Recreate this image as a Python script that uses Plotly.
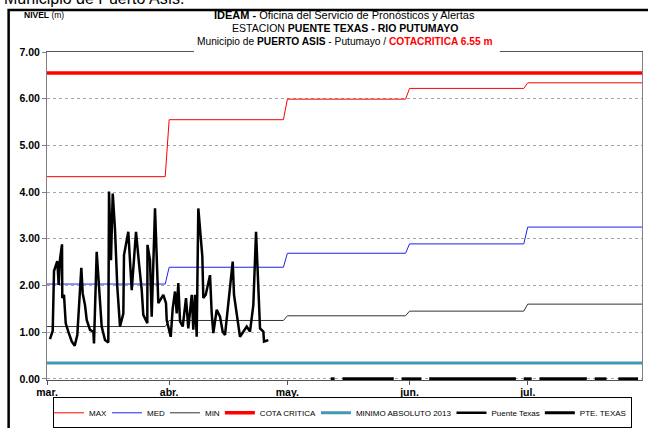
import pandas as pd
import plotly.graph_objects as go

# --- datos -------------------------------------------------------------
inicio = pd.Timestamp("2013-03-01")
fin = pd.Timestamp("2013-07-31")

meses = ["2013-03-01", "2013-04-01", "2013-05-01", "2013-06-01", "2013-07-01"]
etiquetas_mes = ["mar.", "abr.", "may.", "jun.", "jul."]

# niveles históricos mensuales (m)
nivel_max = [4.33, 5.55, 5.99, 6.22, 6.34]
nivel_med = [2.03, 2.39, 2.69, 2.89, 3.25]
nivel_min = [1.12, 1.25, 1.35, 1.45, 1.60]

cota_critica = 6.55
minimo_absoluto_2013 = 0.34

# lecturas de la estación Puente Texas (días desde el 1 de marzo, nivel en m)
dias_puente = [0.76, 1.45, 1.78, 2.61, 2.97, 3.30, 3.81, 3.88, 4.31, 4.75,
               5.41, 6.27, 7.03, 7.69, 8.71, 9.06, 9.64, 10.08, 10.91, 11.75,
               11.93, 12.61, 13.88, 14.72, 15.56, 15.74, 16.24, 16.68, 17.26, 17.84,
               18.53, 19.37, 19.54, 20.63, 21.50, 22.59, 23.35, 24.04, 24.44, 25.46,
               25.50, 26.14, 26.57, 27.41, 28.25, 29.52, 30.20, 30.38, 31.40, 31.90,
               32.49, 32.92, 33.32, 33.76, 34.44, 35.28, 35.86, 36.73, 37.13, 37.56,
               37.99, 38.40, 39.42, 39.67, 40.28, 41.37, 41.80, 42.21, 43.07, 43.91,
               44.59, 45.18, 47.13, 47.46, 48.98, 49.82, 50.69, 51.52, 52.36, 53.05,
               53.63, 54.06, 54.90, 55.08, 56.17]
nivel_puente = [0.85, 1.03, 2.31, 2.52, 2.01, 2.56, 2.88, 1.73, 1.80, 1.19,
                1.01, 0.80, 0.71, 0.94, 2.38, 1.83, 1.58, 1.26, 1.05, 1.01,
                0.76, 2.72, 1.12, 0.83, 0.78, 4.01, 2.54, 3.97, 3.19, 1.97,
                1.12, 1.40, 2.65, 3.15, 1.90, 3.15, 2.47, 1.90, 1.37, 1.19,
                2.87, 2.54, 1.33, 3.65, 1.62, 1.80, 1.62, 1.26, 0.90, 1.51,
                1.87, 1.40, 2.05, 1.23, 1.12, 1.73, 1.08, 1.80, 1.05, 1.80,
                0.90, 3.65, 2.62, 1.73, 1.80, 2.22, 1.40, 0.98, 1.48, 1.33,
                1.01, 0.94, 2.51, 1.80, 0.90, 1.01, 1.12, 1.01, 1.58, 3.15,
                1.83, 1.08, 1.01, 0.80, 0.83]

# serie diaria PTE. TEXAS desde el 12 de mayo (None = sin dato)
inicio_pte = "2013-05-12"
pte_texas = [0, 0, None,
             0, 0, 0, 0, 0, 0, 0, 0, 0, 0, 0, 0, 0, 0, None,
             0, 0, 0, 0, 0, 0, None,
             0, 0, 0, 0, 0, 0, 0, 0, 0, 0, 0, 0, 0, 0, 0, 0, 0, 0, 0, 0, 0, 0, 0, None,
             0, 0, 0, None,
             0, 0, 0, 0, 0, 0, 0, 0, 0, 0, 0, 0, 0, None,
             0, 0, 0, 0, None, None,
             0, 0, 0, 0, 0, 0]

# --- construcción ------------------------------------------------------
SANS = "Liberation Sans, Arial, sans-serif"

inicios_mes = pd.to_datetime(meses)


def escalones(valores):
    """Convierte valores mensuales en una línea escalonada día a día."""
    xs, ys = [], []
    for i, v in enumerate(valores):
        a = inicios_mes[i]
        b = inicios_mes[i + 1] - pd.Timedelta(days=1) if i + 1 < len(inicios_mes) else fin
        xs += [a, b]
        ys += [v, v]
    return xs, ys


fig = go.Figure()

for nombre, valores, color in [("MAX", nivel_max, "#FF0000"),
                               ("MED", nivel_med, "#1F1FF0"),
                               ("MIN", nivel_min, "#333333")]:
    xs, ys = escalones(valores)
    fig.add_trace(go.Scatter(x=xs, y=ys, mode="lines", name=nombre,
                             line=dict(color=color, width=1)))

fig.add_trace(go.Scatter(x=[inicio, fin], y=[cota_critica, cota_critica],
                         mode="lines", name="COTA CRITICA",
                         line=dict(color="#FF0000", width=3.5)))
fig.add_trace(go.Scatter(x=[inicio, fin], y=[minimo_absoluto_2013] * 2,
                         mode="lines", name="MINIMO ABSOLUTO 2013",
                         line=dict(color="#4298B5", width=3)))

x_puente = [inicio + pd.Timedelta(days=d) for d in dias_puente]
fig.add_trace(go.Scatter(x=x_puente, y=nivel_puente, mode="lines",
                         name="Puente Texas",
                         line=dict(color="black", width=2.5)))

x_pte = pd.date_range(inicio_pte, periods=len(pte_texas), freq="D")
fig.add_trace(go.Scatter(x=x_pte, y=pte_texas, mode="lines", name="PTE. TEXAS",
                         connectgaps=False,
                         line=dict(color="black", width=3)))

# --- ejes ---------------------------------------------------------------
fig.update_xaxes(
    type="date",
    range=["2013-03-01", "2013-07-30"],
    tickvals=meses, ticktext=etiquetas_mes,
    tickfont=dict(family=SANS, size=10.5, color="black", weight="bold"),
    ticks="outside", ticklen=4, tickcolor="#555555", ticklabelstandoff=-2,
    showline=True, linecolor="#555555", linewidth=1, mirror=True,
    showgrid=False, zeroline=False,
)
fig.update_yaxes(
    range=[-0.025, 7.0],
    tickvals=[0, 1, 2, 3, 4, 5, 6, 7], tickformat=".2f",
    tickfont=dict(family=SANS, size=10.5, color="black", weight="bold"),
    ticks="outside", ticklen=4, tickcolor="#808080",
    showline=True, linecolor="#808080", linewidth=1, mirror=True,
    showgrid=True, gridcolor="#A6A6A6", griddash="dot", gridwidth=1,
    zeroline=False,
)

# --- títulos y marco -----------------------------------------------------
titulo = [
    "<b>IDEAM -</b> Oficina del Servicio de Pronósticos y Alertas",
    "ESTACION <b>PUENTE TEXAS - RIO PUTUMAYO</b>",
    "Municipio de <b>PUERTO ASIS</b> - Putumayo / "
    "<span style='color:#FF0000'><b>COTACRITICA 6.55 m</b></span>",
]
tam_titulo = [11, 10.5, 10.2]
annotations = []
for texto, yy, tam in zip(titulo, [1.113, 1.073, 1.0335], tam_titulo):
    annotations.append(dict(text=texto, x=0.5, y=yy, xref="paper", yref="paper",
                            xanchor="center", yanchor="middle", showarrow=False,
                            font=dict(family=SANS, size=tam, color="black")))
annotations.append(dict(text="<b>NIVEL</b> (m)", x=-0.042, y=1.113,
                        xref="paper", yref="paper", xanchor="left", yanchor="middle",
                        showarrow=False,
                        font=dict(family=SANS, size=8.5, color="black")))
annotations.append(dict(text="Municipio de Puerto Asís:", x=-0.076, y=1.163,
                        xref="paper", yref="paper", xanchor="left", yanchor="middle",
                        showarrow=False,
                        font=dict(family=SANS, size=16, color="black")))

shapes = [
    # fondo blanco del bloque de título sobre el borde superior
    dict(type="rect", xref="paper", yref="paper", x0=0.247, x1=0.761,
         y0=0.997, y1=1.04, fillcolor="white", line=dict(width=0), layer="above"),
    # marco exterior del gráfico
    dict(type="rect", xref="paper", yref="paper", x0=-0.0645, x1=1.03,
         y0=-0.2, y1=1.128, fillcolor="rgba(0,0,0,0)",
         line=dict(color="black", width=2.5), layer="above"),
]

fig.update_layout(
    width=648, height=428,
    margin=dict(l=47, r=6, t=52, b=48, autoexpand=False),
    paper_bgcolor="white", plot_bgcolor="white",
    showlegend=True,
    legend=dict(orientation="h", xref="paper", yref="paper",
                x=0.4966, xanchor="center", y=-0.1, yanchor="middle",
                bgcolor="white", bordercolor="black", borderwidth=1,
                font=dict(family=SANS, size=8, color="black"),
                itemwidth=30, indentation=-5, tracegroupgap=0),
    annotations=annotations,
    shapes=shapes,
)

fig.write_html("out.html")
